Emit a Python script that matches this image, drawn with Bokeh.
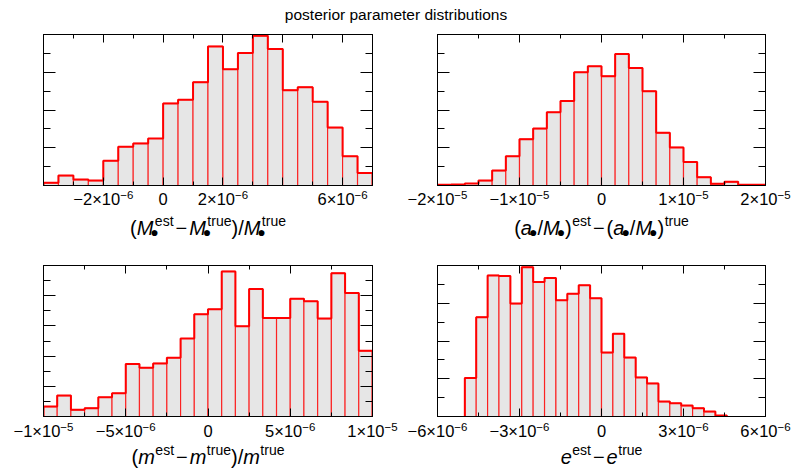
import numpy as np
from bokeh.plotting import figure
from bokeh.models import Range1d, LinearAxis, FixedTicker, Label
from bokeh.layouts import column, row
from bokeh.embed import file_html
from bokeh.resources import INLINE

TITLE = "posterior parameter distributions"

# ---- panel 1: (M_est - M_true)/M_true
p1_bin_start = -4e-6
p1_bin_width = 5e-7
p1_counts = [8, 30, 18, 15, 75, 117, 127, 142, 248, 259, 312, 420, 351, 400,
             452, 412, 288, 297, 253, 175, 88, 38]
p1_xrange = (-4e-6, 7e-6)
p1_major = [-4e-6, -2e-6, 0.0, 2e-6, 4e-6, 6e-6]
p1_minor = [-3e-6, -1e-6, 1e-6, 3e-6, 5e-6, 7e-6]
p1_tick_x = [-2e-6, 0.0, 2e-6, 6e-6]
p1_tick_mant = ["−2×10", "0", "2×10", "6×10"]
p1_tick_exp = ["−6", "", "−6", "−6"]
p1_ymax, p1_ydiv = 456, 8

# ---- panel 2: (a/M)_est - (a/M)_true
p2_bin_start = -2e-5
p2_bin_width = 1e-5 / 6
p2_counts = [2, 3, 6, 15, 45, 88, 140, 172, 221, 255, 342, 360, 330, 397,
             355, 285, 159, 115, 71, 25, 5, 11, 2, 2]
p2_xrange = (-2e-5, 2e-5)
p2_major = [-2e-5, -1e-5, 0.0, 1e-5, 2e-5]
p2_minor = [-1.5e-5, -5e-6, 5e-6, 1.5e-5]
p2_tick_x = [-2e-5, -1e-5, 0.0, 1e-5, 2e-5]
p2_tick_mant = ["−2×10", "−1×10", "0", "1×10", "2×10"]
p2_tick_exp = ["−5", "−5", "", "−5", "−5"]
p2_ymax, p2_ydiv = 456, 8

# ---- panel 3: (m_est - m_true)/m_true
p3_bin_start = -1e-5
p3_bin_width = 5e-6 / 6
p3_counts = [30, 63, 20, 25, 58, 70, 158, 147, 160, 177, 235, 308, 323, 437,
             272, 384, 297, 297, 355, 347, 295, 432, 372, 198]
p3_xrange = (-1e-5, 1e-5)
p3_major = [-1e-5, -5e-6, 0.0, 5e-6, 1e-5]
p3_minor = [-7.5e-6, -2.5e-6, 2.5e-6, 7.5e-6]
p3_tick_x = [-1e-5, -5e-6, 0.0, 5e-6, 1e-5]
p3_tick_mant = ["−1×10", "−5×10", "0", "5×10", "1×10"]
p3_tick_exp = ["−5", "−6", "", "−6", "−5"]
p3_ymax, p3_ydiv = 455, 10

# ---- panel 4: e_est - e_true
p4_bin_start = -5e-6
p4_bin_width = 5e-6 / 12
p4_counts = [116, 300, 426, 424, 341, 451, 406, 418, 351, 371, 396, 357, 193,
             250, 178, 118, 100, 45, 40, 33, 25, 15, 3]
p4_xrange = (-6e-6, 6e-6)
p4_major = [-6e-6, -3e-6, 0.0, 3e-6, 6e-6]
p4_minor = [-4.5e-6, -1.5e-6, 1.5e-6, 4.5e-6]
p4_tick_x = [-6e-6, -3e-6, 0.0, 3e-6, 6e-6]
p4_tick_mant = ["−6×10", "−3×10", "0", "3×10", "6×10"]
p4_tick_exp = ["−6", "−6", "", "−6", "−6"]
p4_ymax, p4_ydiv = 456, 8

# axis-label tokens: n=normal, i=italic, b=bullet subscript, p=superscript, o=operator
p1_label = [("n", "("), ("i", "M"), ("b", ""), ("p", "est"), ("o", "−"), ("i", "M"), ("b", ""),
            ("p", "true"), ("n", ")"), ("n", "/"), ("i", "M"), ("b", ""), ("p", "true")]
p2_label = [("n", "("), ("i", "a"), ("b", ""), ("n", "/"), ("i", "M"), ("b", ""), ("n", ")"),
            ("p", "est"), ("o", "−"), ("n", "("), ("i", "a"), ("b", ""), ("n", "/"), ("i", "M"),
            ("b", ""), ("n", ")"), ("p", "true")]
p3_label = [("n", "("), ("i", "m"), ("p", "est"), ("o", "−"), ("i", "m"), ("p", "true"), ("n", ")"),
            ("n", "/"), ("i", "m"), ("p", "true")]
p4_label = [("i", "e"), ("p", "est"), ("o", "−"), ("i", "e"), ("p", "true")]

FONT = "Liberation Sans"
BAR_FILL = "#e6e6e6"
RED = "#ff0000"
BASE_FIX = 0.33   # lifts Bokeh's label anchor onto the alphabetic baseline

# Arial / Liberation Sans advance widths (per 1000 em)
ADV = {" ": 278, "(": 333, ")": 333, "/": 278, "−": 584, "×": 584, "M": 833, "a": 556,
       "m": 833, "e": 556, "s": 500, "t": 278, "r": 333, "u": 556, "●": 604}


def tw(s, size):
    return sum(ADV.get(c, 556) for c in s) * size / 1000.0


def make_panel(width, height, mb, xr, ymax, ydiv, xmaj, xmin):
    p = figure(width=width, height=height, x_range=Range1d(*xr), y_range=Range1d(0, ymax),
               output_backend="svg", toolbar_location=None, title=None,
               x_axis_location=None, y_axis_location=None,
               min_border_left=mb[0], min_border_right=mb[1],
               min_border_top=mb[2], min_border_bottom=mb[3],
               background_fill_color="white", border_fill_color="white",
               outline_line_color="black", outline_line_width=1)
    p.grid.visible = False
    xt = FixedTicker(ticks=xmaj, minor_ticks=xmin)
    ymaj = [ymax * i / ydiv for i in range(0, ydiv + 1, 2)]
    ymin = [ymax * i / ydiv for i in range(1, ydiv, 2)]
    yt = FixedTicker(ticks=ymaj, minor_ticks=ymin)
    for loc, tk, tin, mtin in (("below", xt, 8, 4), ("above", xt, 8, 4),
                               ("left", yt, 12, 7), ("right", yt, 12, 7)):
        ax = LinearAxis(ticker=tk, major_tick_in=tin, major_tick_out=0,
                        minor_tick_in=mtin, minor_tick_out=0,
                        major_label_text_color=None, major_label_text_font_size="1px",
                        major_label_standoff=0, axis_line_color="black",
                        major_tick_line_color="black", minor_tick_line_color="black")
        p.add_layout(ax, loc)
    return p


def bare_figure(width, height, xr, yr):
    f = figure(width=width, height=height, x_range=xr, y_range=yr,
               output_backend="svg", toolbar_location=None, title=None,
               x_axis_location=None, y_axis_location=None, min_border=0,
               min_border_left=0, min_border_right=0, min_border_top=0, min_border_bottom=0,
               outline_line_color=None, background_fill_color="white",
               border_fill_color="white")
    f.grid.visible = False
    return f


def make_strip(width, height, mb_l, mb_r, xr):
    # strip under a panel, sharing the panel's x scale (same px per unit, same origin)
    frame_w = width - mb_l - mb_r
    k = (xr[1] - xr[0]) / frame_w
    return bare_figure(width, height, Range1d(xr[0] - mb_l * k, xr[1] + mb_r * k),
                       Range1d(0, height))


def add_hist(p, start, width, counts):
    n = len(counts)
    edges = start + width * np.arange(n + 1)
    p.quad(left=edges[:-1], right=edges[1:], bottom=0, top=counts,
           fill_color=BAR_FILL, line_color=RED, line_alpha=0.75, line_width=1.2)
    xs = np.concatenate([[edges[0]], edges])
    ys = np.concatenate([[0], counts, [0]])
    p.step(x=xs, y=ys, mode="after", line_color=RED, line_width=2)


def add_text(s, x, y, txt, dx, dy, size, style="normal", align="left"):
    s.add_layout(Label(x=x, y=y, x_units="data", y_units="data", x_offset=dx,
                       y_offset=dy + BASE_FIX * size,
                       text=txt, text_font=FONT, text_font_size=f"{size}px",
                       text_font_style=style, text_color="black",
                       text_align=align, text_baseline="alphabetic"))


def add_ticklabels(s, xs, mants, exps, base, msize=16.5, esize=11.5, eraise=6):
    for x, m, e in zip(xs, mants, exps):
        wm = tw(m, msize)
        we = tw(e, esize) if e else 0.0
        left = -(wm + we) / 2.0
        add_text(s, x, base, m, left, 0, msize)
        if e:
            add_text(s, x, base, e, left + wm, eraise, esize)


def add_axislabel(s, xr, tokens, base, main=20, sup=14, bsize=14):
    items = []
    cur = 0.0
    last_b = None
    for kind, txt in tokens:
        if kind in ("n", "i"):
            items.append((txt, cur, 0, main, "italic" if kind == "i" else "normal"))
            cur += tw(txt, main)
            last_b = None
        elif kind == "o":
            cur += 2
            items.append((txt, cur, 0, main, "normal"))
            cur += tw(txt, main) + 2
            last_b = None
        elif kind == "b":
            items.append(("●", cur - 3, -2.5, bsize, "normal"))
            last_b = cur - 3
            cur += tw("●", bsize) - 3
        else:
            x0 = last_b + 4.5 if last_b is not None else cur + 0.5
            items.append((txt, x0, 9, sup, "normal"))
            cur = max(cur, x0 + tw(txt, sup))
            last_b = None
    xc = (xr[0] + xr[1]) / 2.0
    for txt, x0, dy, size, style in items:
        add_text(s, xc, base, txt, x0 - cur / 2.0, dy, size, style)


# ---- layout (pixels)
W_L, W_R = 400, 391
MB_L = (43, 28)          # left column: border left / right
MB_R = (37, 26)          # right column
H_TITLE = 30
H_TOP, MBT_TOP = 159, 4  # top panels: height, top border
H_STRIP1 = 72
H_BOT, MBT_BOT = 159, 4
H_STRIP2 = 52
FRAME_H = 151

t = bare_figure(W_L + W_R, H_TITLE, Range1d(0, 1), Range1d(0, H_TITLE))
add_text(t, 0.5, 11, TITLE, 0, 0, 15.5, align="center")

specs = [
    (W_L, MB_L, H_TOP, MBT_TOP, H_STRIP1, 57, 27, p1_xrange, p1_ymax, p1_ydiv, p1_major, p1_minor,
     p1_bin_start, p1_bin_width, p1_counts, p1_tick_x, p1_tick_mant, p1_tick_exp, p1_label),
    (W_R, MB_R, H_TOP, MBT_TOP, H_STRIP1, 57, 27, p2_xrange, p2_ymax, p2_ydiv, p2_major, p2_minor,
     p2_bin_start, p2_bin_width, p2_counts, p2_tick_x, p2_tick_mant, p2_tick_exp, p2_label),
    (W_L, MB_L, H_BOT, MBT_BOT, H_STRIP2, 36, 9, p3_xrange, p3_ymax, p3_ydiv, p3_major, p3_minor,
     p3_bin_start, p3_bin_width, p3_counts, p3_tick_x, p3_tick_mant, p3_tick_exp, p3_label),
    (W_R, MB_R, H_BOT, MBT_BOT, H_STRIP2, 36, 9, p4_xrange, p4_ymax, p4_ydiv, p4_major, p4_minor,
     p4_bin_start, p4_bin_width, p4_counts, p4_tick_x, p4_tick_mant, p4_tick_exp, p4_label),
]

panels, strips = [], []
for (w, mblr, h, mbt, hs, tick_base, lab_base, xr, ymax, ydiv, xmaj, xmin, bs, bw, counts,
     tx, tm, te, lab) in specs:
    p = make_panel(w, h, (mblr[0], mblr[1], mbt, h - mbt - FRAME_H), xr, ymax, ydiv, xmaj, xmin)
    add_hist(p, bs, bw, counts)
    s = make_strip(w, hs, mblr[0], mblr[1], xr)
    add_ticklabels(s, tx, tm, te, tick_base)
    add_axislabel(s, xr, lab, lab_base)
    panels.append(p)
    strips.append(s)

layout = column(t, row(panels[0], panels[1]), row(strips[0], strips[1]),
                row(panels[2], panels[3]), row(strips[2], strips[3]))
open("out.html", "w").write(file_html(layout, INLINE))
